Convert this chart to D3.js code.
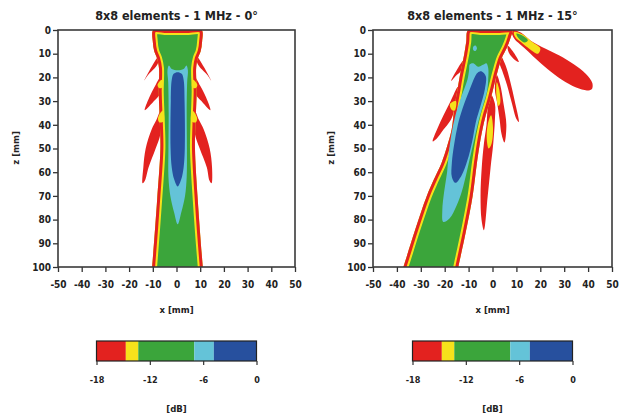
<!DOCTYPE html>
<html>
<head>
<meta charset="utf-8">
<script src="https://cdn.jsdelivr.net/npm/d3@7"></script>
<style>
  body { margin: 0; background: #fff; }
  svg text {
    font-family: "DejaVu Sans Condensed", "DejaVu Sans", sans-serif;
    font-stretch: condensed;
    font-weight: bold;
    fill: #222;
  }
</style>
</head>
<body>
<div id="chart"></div>
<script>
// colour bar: level boundaries (dB) and colours
var dbLevels = [-18, -14.7, -13.3, -7, -4.8, 0];
var levelColors = ["#e3221f", "#f6e21b", "#3ba53b", "#64c3d8", "#27509e"];
var dbTicks = [-18, -12, -6, 0];
var xTicks = [-50, -40, -30, -20, -10, 0, 10, 20, 30, 40, 50];
var zTicks = [0, 10, 20, 30, 40, 50, 60, 70, 80, 90, 100];

// dB value used for each kind of region
var dbRed = -16, dbYellow = -14, dbGreen = -10, dbLight = -6, dbBlue = -2;

// ---- 0 deg panel, contour outlines as [x mm, z mm]
var beam0 = [[-9.8,0],[-4,0],[4,0],[10.6,0],[10.8,5],[10.2,9],[9,12],[8.3,16],[8.5,26],[8,40],[7.8,50],[9,72],[11.1,100],[11.6,105],
  [-10.8,105],[-10.3,100],[-8.2,72],[-6.8,50],[-7,40],[-7.5,26],[-7.4,16],[-8.2,12],[-9.4,9],[-10,5]];
var light0 = [[-3.2,15],[-2,16.5],[0.5,17],[3,16.5],[4.2,15],[4.8,17],[4.5,22],[4.3,35],[4.4,50],[4.3,62],[3.6,70],[2,77],[0.5,82],
  [-1,77],[-2.6,70],[-3.4,62],[-3.4,50],[-3.3,35],[-3.5,22],[-3.8,17]];
var blue0 = [[0.5,17.8],[2.2,18.5],[3,21],[3.4,30],[3.5,50],[3,58],[2,63],[0.5,66],[-1,63],[-2,58],[-2.5,50],[-2.4,30],[-2,21],[-1.2,18.5]];
var lobeL1_0 = [[-7.5,11],[-10.5,15.5],[-13.6,21.3],[-12,19],[-8,14.5]];
var lobeL2_0 = [[-6.5,19.5],[-9,23.5],[-11.5,28.5],[-13.4,33.8],[-12.3,33],[-9.5,30],[-7,27]];
var lobeL3_0 = [[-6.5,33.5],[-8.5,38],[-10.5,42],[-13,50],[-14,58],[-14.3,64.7],[-13.3,63.5],[-11.8,58],[-8.8,50],[-6.8,44]];
var lobeR1_0 = [[8.5,11],[11.5,15.5],[14.6,21.3],[13,19],[9,14.5]];
var lobeR2_0 = [[7.5,19.5],[10,23.5],[12.5,28.5],[14.3,33.8],[13.2,33],[10.5,30],[8,27]];
var lobeR3_0 = [[7.5,33.5],[9.5,38],[11.5,42],[14,50],[15,58],[14.8,64.7],[13.9,63.5],[12.8,58],[9.8,50],[7.8,44]];
var yelL2_0 = [[-6.2,21],[-8,23.2],[-7.2,24.6],[-5.8,24]];
var yelL3_0 = [[-5.8,34],[-7.8,37.2],[-7.2,39],[-5.4,38.5]];
var yelR2_0 = [[7,21],[8.8,23.2],[8,24.6],[6.6,24]];
var yelR3_0 = [[6.7,34],[8.7,37.2],[8.1,39],[6.3,38.5]];

// ---- 15 deg panel
var beam15 = [[-10.2,0],[-4,0],[3,0],[8.2,0],[7.5,3.5],[6,7.5],[3.8,12],[2,18],[0.5,24],[-1,30],[-2.8,36],[-4.2,42],[-5.3,48],[-6.5,56],
  [-8.3,70],[-11,84.4],[-14.3,100],[-15.3,105],[-39,105],[-37.3,100],[-32.4,84.4],[-27.5,70],[-24.5,63],[-21.3,56],[-19,49],
  [-17.1,42],[-16,33],[-14.8,26],[-13.8,20],[-12.8,15],[-11.8,10],[-11,5]];
var light15 = [[-9.5,14.5],[-8,14],[-6,15.5],[-4,14.7],[-2.6,14],[-1.8,16],[-1.8,21],[-2.3,26],[-4,32],[-6,39],[-7.6,46],[-9.2,53],
  [-10.8,60],[-12.8,68],[-15,74],[-18,79.5],[-20.6,81],[-21,76],[-20.2,68],[-19,60],[-18.3,52],[-17.2,44],[-15.5,36],[-13,28],
  [-10.5,21],[-9.8,17]];
var spot15 = [[-8,7],[-7,6.6],[-6.5,7.8],[-7.2,8.9],[-8.1,8.3]];
var blue15 = [[-4.5,17.5],[-2.8,19.5],[-3.2,25],[-5,32],[-7,39],[-8.5,47],[-10.5,55],[-13,61.5],[-15.5,64.5],[-17,62],[-17,56],
  [-16,48],[-14.5,40],[-12.5,33],[-9.5,25],[-7.5,20],[-6.2,18]];
var grating15 = [[8,0],[12,1.2],[16,4.5],[22,7.8],[28,10.8],[34,14.5],[39,18.5],[41.8,22.5],[41.5,25],
  [39.5,25.5],[35,24.3],[29,21],[23,16.5],[18,12],[14,8.2],[11.5,6],[9,3.5]];
var gratingYel15 = [[9,0.8],[12.5,1.8],[16.5,5],[20,7.8],[19,10],[15.5,8],[12,5.2],[9.5,3]];
var gratingGrn15 = [[10,1.5],[12.5,2.3],[14.8,4.3],[13.5,5.3],[11,3.6]];
var lobeL1_15 = [[-12.3,13],[-15,17],[-17.3,21.5],[-15.5,19.5],[-13,17]];
var lobeL2_15 = [[-14.5,24],[-17.5,30],[-20.5,36],[-23,41.5],[-25,47],[-23.5,46],[-20.5,42],[-17.8,38.5],[-16.3,35]];
var yelL2_15 = [[-15.3,30],[-17.8,31.2],[-17.2,33.5],[-15.8,34]];
var lobeRA_15 = [[-0.8,27],[1,31],[1,38],[0.3,48],[-0.8,58],[-2,70],[-3.6,84.5],[-4.6,80],[-5,70],[-4.5,58],[-3.6,48],[-2.5,40],[-2,33]];
var yelRA_15 = [[-0.6,36],[0.2,41],[-0.4,48],[-1.6,50],[-2.4,46],[-2,40]];
var lobeRB_15 = [[1.8,19],[3.2,23],[4.6,31],[5.8,40],[5,47.5],[3.8,44],[3,38],[2,31],[1,25]];
var yelRB_15 = [[1.8,22],[2.8,25],[3.2,31],[2.4,32],[1.6,27]];
var lobeRC_15 = [[3.5,11],[5.5,15],[7.5,22],[9.3,30],[11,38.8],[10,37.5],[8,30.5],[6,23],[4,17],[3,14]];
var lobeRD_15 = [[6.3,6.5],[8.5,9],[11,13.5],[9.5,12.8],[6.8,9.5]];

var panels = [
  { title: "8x8 elements - 1 MHz - 0°", left: 58, right: 295,
    layers: [
      {pts: lobeL1_0, db: dbRed}, {pts: lobeL2_0, db: dbRed}, {pts: lobeL3_0, db: dbRed},
      {pts: lobeR1_0, db: dbRed}, {pts: lobeR2_0, db: dbRed}, {pts: lobeR3_0, db: dbRed},
      {pts: beam0, db: dbGreen, band: true},
      {pts: yelL2_0, db: dbYellow}, {pts: yelL3_0, db: dbYellow}, {pts: yelR2_0, db: dbYellow}, {pts: yelR3_0, db: dbYellow},
      {pts: light0, db: dbLight}, {pts: blue0, db: dbBlue}
    ] },
  { title: "8x8 elements - 1 MHz - 15°", left: 373, right: 612,
    layers: [
      {pts: grating15, db: dbRed}, {pts: lobeRC_15, db: dbRed}, {pts: lobeRD_15, db: dbRed},
      {pts: lobeRA_15, db: dbRed}, {pts: lobeRB_15, db: dbRed},
      {pts: lobeL1_15, db: dbRed}, {pts: lobeL2_15, db: dbRed},
      {pts: beam15, db: dbGreen, band: true},
      {pts: gratingYel15, db: dbYellow}, {pts: gratingGrn15, db: dbGreen},
      {pts: yelL2_15, db: dbYellow}, {pts: yelRA_15, db: dbYellow}, {pts: yelRB_15, db: dbYellow},
      {pts: light15, db: dbLight}, {pts: spot15, db: dbLight}, {pts: blue15, db: dbBlue}
    ] }
];

var width = 623, height = 416;
var plotTop = 30, plotBottom = 267;
var cbTop = 341, cbHeight = 20, cbWidth = 160;

var color = d3.scaleThreshold()
  .domain(dbLevels.slice(1, -1))
  .range(levelColors);

// plain hyphen for negative labels, as in the original
var plain = function(d) { return String(d); };

var svg = d3.select("#chart").append("svg")
  .attr("width", width)
  .attr("height", height);
var defs = svg.append("defs");

panels.forEach(function(p, pi) {
  var x = d3.scaleLinear().domain([-50, 50]).range([p.left, p.right]);
  var y = d3.scaleLinear().domain([0, 100]).range([plotTop, plotBottom]);
  var mid = (p.left + p.right) / 2;

  var line = d3.line()
    .x(function(d) { return x(d[0]); })
    .y(function(d) { return y(d[1]); })
    .curve(d3.curveCatmullRomClosed.alpha(0.5));

  // clip to the plot area
  defs.append("clipPath").attr("id", "area" + pi)
    .append("rect")
    .attr("x", p.left).attr("y", plotTop)
    .attr("width", p.right - p.left).attr("height", plotBottom - plotTop);

  var plot = svg.append("g").attr("clip-path", "url(#area" + pi + ")");

  p.layers.forEach(function(l, li) {
    if (l.band) {
      // main beam: red and yellow rims inside the outer contour
      var id = "beam" + pi + "_" + li;
      defs.append("clipPath").attr("id", id).append("path").attr("d", line(l.pts));
      var gb = plot.append("g").attr("clip-path", "url(#" + id + ")");
      gb.append("path").attr("d", line(l.pts))
        .attr("fill", color(l.db))
        .attr("stroke", color(dbYellow))
        .attr("stroke-width", 10);
      gb.append("path").attr("d", line(l.pts))
        .attr("fill", "none")
        .attr("stroke", color(dbRed))
        .attr("stroke-width", 6);
    } else {
      plot.append("path").attr("d", line(l.pts)).attr("fill", color(l.db));
    }
  });

  // axes
  var yAxis = d3.axisLeft(y).tickValues(zTicks).tickFormat(plain).tickSize(5).tickPadding(2);
  var xAxis = d3.axisBottom(x).tickValues(xTicks).tickFormat(plain).tickSize(5).tickPadding(9);

  var gy = svg.append("g").attr("class", "axis")
    .attr("transform", "translate(" + p.left + ",0)")
    .call(yAxis);
  var gx = svg.append("g").attr("class", "axis")
    .attr("transform", "translate(0," + plotBottom + ")")
    .call(xAxis);
  [gx, gy].forEach(function(g) {
    g.select(".domain").remove();
    g.selectAll(".tick line").attr("stroke", "#333").attr("stroke-width", 1.3);
    g.selectAll("text").style("font-size", "10px");
  });

  // frame
  svg.append("rect")
    .attr("x", p.left).attr("y", plotTop)
    .attr("width", p.right - p.left).attr("height", plotBottom - plotTop)
    .attr("fill", "none").attr("stroke", "#3a3a3a").attr("stroke-width", 1.6);

  svg.append("text")
    .attr("x", mid).attr("y", 20)
    .attr("text-anchor", "middle")
    .style("font-size", "12.5px")
    .text(p.title);

  svg.append("text")
    .attr("x", mid).attr("y", 313)
    .attr("text-anchor", "middle")
    .style("font-size", "9.5px")
    .text("x [mm]");

  svg.append("text")
    .attr("transform", "translate(" + (p.left - 39) + "," + 148 + ") rotate(-90)")
    .attr("text-anchor", "middle")
    .style("font-size", "9.5px")
    .text("z [mm]");

  // colour bar
  var cx = d3.scaleLinear().domain([dbLevels[0], dbLevels[dbLevels.length - 1]])
    .range([mid - cbWidth / 2, mid + cbWidth / 2]);
  var cb = svg.append("g");
  cb.selectAll("rect")
    .data(d3.range(levelColors.length))
    .enter()
    .append("rect")
    .attr("x", function(i) { return cx(dbLevels[i]); })
    .attr("y", cbTop)
    .attr("width", function(i) { return cx(dbLevels[i + 1]) - cx(dbLevels[i]); })
    .attr("height", cbHeight)
    .attr("fill", function(i) { return levelColors[i]; });
  cb.append("rect")
    .attr("x", cx.range()[0]).attr("y", cbTop)
    .attr("width", cbWidth).attr("height", cbHeight)
    .attr("fill", "none").attr("stroke", "#222").attr("stroke-width", 1.2);

  var gc = svg.append("g").attr("class", "axis")
    .attr("transform", "translate(0," + (cbTop + cbHeight) + ")")
    .call(d3.axisBottom(cx).tickValues(dbTicks).tickFormat(plain).tickSize(4).tickPadding(12));
  gc.select(".domain").remove();
  gc.selectAll(".tick line").attr("stroke", "#333").attr("stroke-width", 1.2);
  gc.selectAll("text").style("font-size", "9px");

  svg.append("text")
    .attr("x", mid).attr("y", 412)
    .attr("text-anchor", "middle")
    .style("font-size", "9.5px")
    .text("[dB]");
});
</script>
</body>
</html>
